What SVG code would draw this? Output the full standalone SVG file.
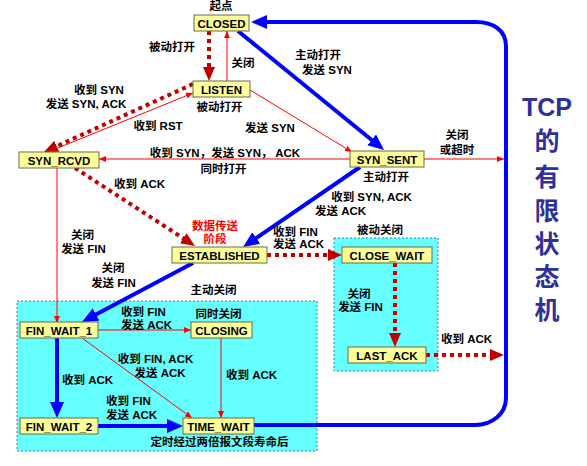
<svg xmlns="http://www.w3.org/2000/svg" width="587" height="466" viewBox="0 0 587 466">
<defs>
<style>
text{font-family:"Liberation Sans","Noto Sans CJK SC",sans-serif;font-weight:bold;font-size:11.5px;fill:#000}
.m{text-anchor:middle}
.node rect{fill:#ffff99;stroke:#6b6b4a;stroke-width:1}
.node text{font-size:11.5px;text-anchor:middle}
.zone{fill:#66ffff;stroke:#4a7a8a;stroke-width:1;stroke-dasharray:2 2}
.blue{stroke:#0000ff;stroke-width:4;fill:none}
.thin{stroke:#ff0000;stroke-width:1;fill:none}
.dot{stroke:#c00000;stroke-width:4;fill:none;stroke-dasharray:4 4}
.title{font-size:25px;fill:#30309a;text-anchor:middle}
.red{fill:#ff0000}
</style>
<marker id="ab" markerUnits="userSpaceOnUse" markerWidth="16" markerHeight="14" refX="6" refY="7" orient="auto"><path d="M0,0 L16,7 L0,14 z" fill="#0000ff"/></marker>
<marker id="ad" markerUnits="userSpaceOnUse" markerWidth="14" markerHeight="12" refX="4" refY="6" orient="auto"><path d="M0,0 L14,6 L0,12 z" fill="#c00000"/></marker>
<marker id="ar" markerUnits="userSpaceOnUse" markerWidth="7" markerHeight="6" refX="7" refY="3" orient="auto"><path d="M0,0 L7,3 L0,6 z" fill="#ff0000"/></marker>
</defs>
<rect width="587" height="466" fill="#ffffff"/>
<rect class="zone" x="17" y="301" width="300" height="150"/>
<rect class="zone" x="334" y="238" width="104" height="133"/>
<g id="connectors">
<line class="blue" x1="238" y1="31" x2="376.3" y2="143.7" marker-end="url(#ab)"/>
<line class="blue" x1="360" y1="167" x2="251.3" y2="241.4" marker-end="url(#ab)"/>
<line class="blue" x1="193" y1="263" x2="90.8" y2="317.3" marker-end="url(#ab)"/>
<line class="blue" x1="57" y1="338" x2="57" y2="408" marker-end="url(#ab)"/>
<line class="blue" x1="98" y1="426" x2="173" y2="426" marker-end="url(#ab)"/>
<path class="blue" d="M254,425 H475 C492,425 506,414 506,398 V46 C506,31 494,22 476,22 H261" marker-end="url(#ab)"/>
<line class="dot" x1="209" y1="31" x2="209" y2="71" marker-end="url(#ad)"/>
<line class="dot" x1="193" y1="84" x2="53.1" y2="147.9" marker-end="url(#ad)"/>
<line class="dot" x1="75" y1="168" x2="186.6" y2="240.5" marker-end="url(#ad)"/>
<line class="dot" x1="267" y1="255" x2="332" y2="255" marker-end="url(#ad)"/>
<line class="dot" x1="395" y1="263" x2="395" y2="337" marker-end="url(#ad)"/>
<line class="dot" x1="426" y1="355" x2="494" y2="355" marker-end="url(#ad)"/>
<line class="thin" x1="227" y1="81" x2="227" y2="31" marker-end="url(#ar)"/>
<line class="thin" x1="48" y1="152" x2="193" y2="93" marker-end="url(#ar)"/>
<line class="thin" x1="250" y1="90" x2="352" y2="152" marker-end="url(#ar)"/>
<line class="thin" x1="350" y1="159" x2="99" y2="159" marker-end="url(#ar)"/>
<line class="thin" x1="424" y1="159" x2="504" y2="159" marker-end="url(#ar)"/>
<line class="thin" x1="57" y1="168" x2="57" y2="323" marker-end="url(#ar)"/>
<line class="thin" x1="98" y1="330" x2="191" y2="330" marker-end="url(#ar)"/>
<line class="thin" x1="82" y1="338" x2="192" y2="418" marker-end="url(#ar)"/>
<line class="thin" x1="221" y1="338" x2="221" y2="418" marker-end="url(#ar)"/>
</g>
<g id="closed" class="node"><rect x="194" y="15" width="55" height="16"/><text x="221.5" y="27.5">CLOSED</text></g>
<g id="listen" class="node"><rect x="193" y="81" width="57" height="16"/><text x="221.5" y="93.5">LISTEN</text></g>
<g id="syn_rcvd" class="node"><rect x="19" y="152" width="80" height="16"/><text x="59" y="164.5">SYN_RCVD</text></g>
<g id="syn_sent" class="node"><rect x="350" y="151" width="74" height="16"/><text x="387" y="163.5">SYN_SENT</text></g>
<g id="established" class="node"><rect x="172" y="247" width="95" height="16"/><text x="219.5" y="259.5">ESTABLISHED</text></g>
<g id="close_wait" class="node"><rect x="342" y="247" width="90" height="16"/><text x="387" y="259.5">CLOSE_WAIT</text></g>
<g id="last_ack" class="node"><rect x="348" y="347" width="78" height="16"/><text x="387" y="359.5">LAST_ACK</text></g>
<g id="fin_wait_1" class="node"><rect x="20" y="322" width="78" height="16"/><text x="59" y="334.5">FIN_WAIT_1</text></g>
<g id="closing" class="node"><rect x="191" y="322" width="61" height="16"/><text x="221.5" y="334.5">CLOSING</text></g>
<g id="fin_wait_2" class="node"><rect x="20" y="418" width="78" height="16"/><text x="59" y="430.5">FIN_WAIT_2</text></g>
<g id="time_wait" class="node"><rect x="183" y="418" width="71" height="16"/><text x="218.5" y="430.5">TIME_WAIT</text></g>
<g id="labels">
<text class="m" x="221" y="10">起点</text>
<text class="m" x="172" y="51">被动打开</text>
<text class="m" x="243" y="67">关闭</text>
<text class="m" x="99" y="94">收到 SYN</text>
<text class="m" x="86" y="108">发送 SYN, ACK</text>
<text class="m" x="219.5" y="111">被动打开</text>
<text class="m" x="158" y="130">收到 RST</text>
<text class="m" x="270" y="132">发送 SYN</text>
<text class="m" x="318" y="59">主动打开</text>
<text class="m" x="327" y="74">发送 SYN</text>
<text class="m" x="457" y="139">关闭</text>
<text class="m" x="457" y="154">或超时</text>
<text class="m" x="225" y="157">收到 SYN，发送 SYN， ACK</text>
<text class="m" x="223.5" y="173">同时打开</text>
<text class="m" x="386" y="181">主动打开</text>
<text class="m" x="371.5" y="201">收到 SYN, ACK</text>
<text class="m" x="340.5" y="215">发送 ACK</text>
<text class="m" x="139.5" y="188">收到 ACK</text>
<text class="m red" x="215" y="230">数据传送</text>
<text class="m red" x="215" y="243">阶段</text>
<text x="273" y="236">收到 FIN</text>
<text x="273" y="248">发送 ACK</text>
<text class="m" x="380" y="234">被动关闭</text>
<text class="m" x="82.5" y="239">关闭</text>
<text class="m" x="83.5" y="253">发送 FIN</text>
<text class="m" x="113" y="272">关闭</text>
<text class="m" x="113.5" y="287">发送 FIN</text>
<text class="m" x="213.5" y="294">主动关闭</text>
<text class="m" x="359" y="298">关闭</text>
<text class="m" x="360.5" y="311">发送 FIN</text>
<text class="m" x="466.5" y="343">收到 ACK</text>
<text x="121" y="316">收到 FIN</text>
<text x="121" y="329">发送 ACK</text>
<text class="m" x="218.5" y="318">同时关闭</text>
<text class="m" x="155.5" y="363">收到 FIN, ACK</text>
<text class="m" x="160" y="377">发送 ACK</text>
<text class="m" x="87.5" y="384">收到 ACK</text>
<text class="m" x="251.5" y="379">收到 ACK</text>
<text x="106" y="405">收到 FIN</text>
<text x="106" y="419">发送 ACK</text>
<text class="m" x="219.5" y="446">定时经过两倍报文段寿命后</text>
</g>
<g id="title">
<text class="title" x="547" y="116">TCP</text>
<text class="title" x="547" y="150">的</text>
<text class="title" x="547" y="186">有</text>
<text class="title" x="547" y="220">限</text>
<text class="title" x="547" y="253">状</text>
<text class="title" x="547" y="286">态</text>
<text class="title" x="547" y="319">机</text>
</g>
</svg>
